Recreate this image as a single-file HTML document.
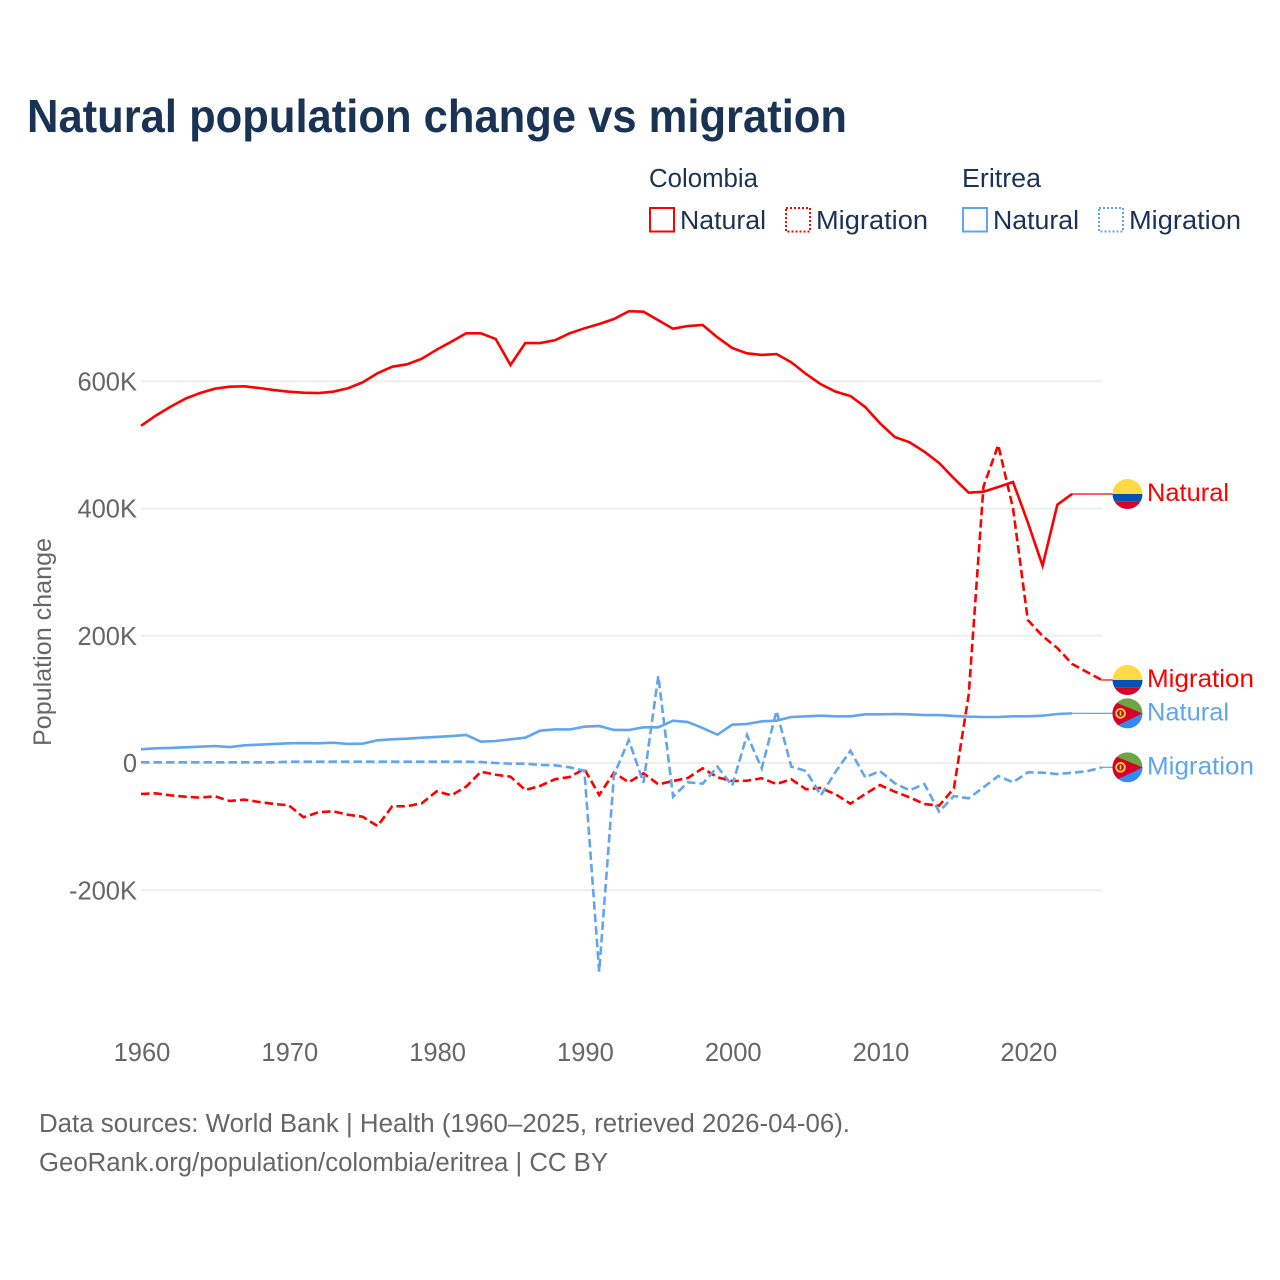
<!DOCTYPE html>
<html lang="en">
<head>
<meta charset="utf-8">
<title>Natural population change vs migration</title>
<style>
html,body{margin:0;padding:0;background:#fff}
svg{display:block}
text{font-family:"Liberation Sans",sans-serif}
</style>
</head>
<body>
<svg id="chart" xmlns="http://www.w3.org/2000/svg" width="1280" height="1280" viewBox="0 0 1280 1280">
  <defs>
    <clipPath id="flag-clip"><circle cx="0" cy="0" r="15"/></clipPath>
  </defs>
  <rect x="0" y="0" width="1280" height="1280" fill="#ffffff"/>
  <text x="27" y="132" font-size="46" font-weight="700" fill="#1a3354" textLength="820" lengthAdjust="spacingAndGlyphs">Natural population change vs migration</text>

  <g font-size="25.5" fill="#1a3354">
    <text x="649" y="187" textLength="109" lengthAdjust="spacingAndGlyphs">Colombia</text>
    <text x="962" y="187" textLength="79" lengthAdjust="spacingAndGlyphs">Eritrea</text>
    <rect x="650" y="208" width="24" height="23.5" fill="none" stroke="#ff0000" stroke-width="2"/>
    <text x="680" y="229" textLength="86" lengthAdjust="spacingAndGlyphs">Natural</text>
    <rect x="786" y="208" width="24" height="23.5" fill="none" stroke="#ff0000" stroke-width="2" stroke-dasharray="2 2"/>
    <text x="816" y="229" textLength="112" lengthAdjust="spacingAndGlyphs">Migration</text>
    <rect x="963" y="208" width="24" height="23.5" fill="none" stroke="#60a5ee" stroke-width="2"/>
    <text x="993" y="229" textLength="86" lengthAdjust="spacingAndGlyphs">Natural</text>
    <rect x="1099" y="208" width="24" height="23.5" fill="none" stroke="#60a5ee" stroke-width="2" stroke-dasharray="2 2"/>
    <text x="1129" y="229" textLength="112" lengthAdjust="spacingAndGlyphs">Migration</text>
  </g>

  <g id="grid"></g>
  <g id="y-axis"></g>
  <g id="x-axis"></g>
  <text transform="translate(51,642) rotate(-90)" text-anchor="middle" font-size="25" fill="#666666" textLength="208" lengthAdjust="spacingAndGlyphs">Population change</text>
  <g id="series"></g>
  <g id="end-labels"></g>

  <text x="39" y="1132" font-size="25.5" fill="#666666" textLength="811" lengthAdjust="spacingAndGlyphs">Data sources: World Bank | Health (1960–2025, retrieved 2026-04-06).</text>
  <text x="39" y="1171" font-size="25.5" fill="#666666" textLength="569" lengthAdjust="spacingAndGlyphs">GeoRank.org/population/colombia/eritrea | CC BY</text>
</svg>
<script>
var years = [1960,1961,1962,1963,1964,1965,1966,1967,1968,1969,1970,1971,1972,1973,1974,1975,1976,1977,1978,1979,1980,1981,1982,1983,1984,1985,1986,1987,1988,1989,1990,1991,1992,1993,1994,1995,1996,1997,1998,1999,2000,2001,2002,2003,2004,2005,2006,2007,2008,2009,2010,2011,2012,2013,2014,2015,2016,2017,2018,2019,2020,2021,2022,2023,2024,2025];
var colombiaNatural = [530,546,560,572.6,581.5,588.3,591.4,592,589.4,586.2,583.6,582,581.5,583.6,589,598.3,612.5,622.9,626.6,635.4,649.6,662.2,675.4,675.4,666.4,625.5,660,660,664.4,675.4,683.2,690,697.8,710,709.3,695.8,682.6,686.8,688.4,669,652.3,643.9,641.3,642.8,629.8,611.4,595.2,583.6,576.8,559.5,533.9,512.4,504,489.3,471.5,447.5,424.8,426.4,433.8,441.6,378.3,310.1,406,422.8];
var colombiaMigration = [-48.7,-47.6,-50.8,-53,-54.5,-52.3,-59.7,-57.7,-61.3,-64.4,-66.5,-85.3,-77.5,-75.9,-81.3,-84.4,-99,-68,-68,-63.3,-44.5,-50.8,-37.2,-13.7,-18.4,-21.5,-42.4,-36.1,-25.6,-22,-9.4,-50.3,-15.2,-30.3,-16.2,-33.5,-28.3,-23.6,-8.3,-22.5,-28.3,-27.8,-24,-33,-25.6,-41.3,-39.3,-49.2,-64,-48.7,-34.6,-45.1,-53.9,-64.4,-67.1,-39.8,106.9,434.3,499.8,400.3,224.8,199.6,180.7,155.6,143,130.5];
var eritreaNatural = [21.5,23.1,23.6,24.7,25.6,26.7,25.1,27.8,28.8,29.9,31,31.4,31,31.9,29.9,30.3,35.7,37.2,38.2,39.8,40.9,42.4,44,33.5,34.6,37.2,39.8,50.8,52.7,52.7,57,58.2,51.9,51.9,56.1,56.1,66.5,64.4,55,44.5,60.2,61.3,65.5,66.5,72.3,73.4,74.3,73.4,73.4,76.5,76.5,77,76.5,75.4,75.4,73.9,72.8,72.3,72.3,73.4,73.4,74.3,77,78];
var eritreaMigration = [1.1,1.1,1.1,1.1,1.1,1.1,1.1,1.1,1.1,1.1,2,2,2,2,2,2,2,2,2,2,2,2,2,1.6,0,-1.1,-1.1,-3.1,-3.6,-6.8,-12.1,-328,-18.9,36.1,-31,136.7,-53,-30.3,-32.5,-5.8,-35.7,44,-8.3,81.7,-5.8,-12.6,-50.8,-13.7,19.3,-22.5,-12.6,-31.9,-42.9,-33,-76.5,-51.9,-55.5,-38.2,-20.4,-30.3,-14.6,-15.2,-17.3,-15.2,-13,-6.8];
var yTickValues = [-200,0,200,400,600];
var yTickLabels = ["-200K","0","200K","400K","600K"];
var xTickValues = [1960,1970,1980,1990,2000,2010,2020];
var xTickLabels = ["1960","1970","1980","1990","2000","2010","2020"];

var NS = 'http://www.w3.org/2000/svg';
var RED = '#ff0000';
var BLUE = '#60a5ee';

function xScale(year) { return 141 + (year - 1960) * 14.78; }
function yScale(value) { return 763 - value * 0.63625; }

function make(tag, attrs, parent) {
  var el = document.createElementNS(NS, tag);
  for (var k in attrs) { el.setAttribute(k, attrs[k]); }
  parent.appendChild(el);
  return el;
}

var grid = document.getElementById('grid');
var yAxis = document.getElementById('y-axis');
var xAxis = document.getElementById('x-axis');
var seriesGroup = document.getElementById('series');
var endLabels = document.getElementById('end-labels');

yTickValues.forEach(function (v, i) {
  var line = make('line', {x1: 141, x2: 1102, y1: yScale(v), y2: yScale(v), stroke: '#eeeeee', 'stroke-width': 2}, grid);
  
  
  var t = make('text', {x: 137, y: yScale(v) + 9, 'text-anchor': 'end', 'font-size': 25.5, fill: '#666666'}, yAxis);
  t.textContent = yTickLabels[i];
  
  
});

xTickValues.forEach(function (v, i) {
  var t = make('text', {x: xScale(v) + 1, y: 1061, 'text-anchor': 'middle', 'font-size': 25.5, fill: '#666666'}, xAxis);
  t.textContent = xTickLabels[i];
  
  
});

function drawSeries(values, color, dashed, name) {
  var d = values.map(function (v, i) {
    return (i ? 'L' : 'M') + xScale(years[i]).toFixed(2) + ' ' + yScale(v).toFixed(2);
  }).join('');
  var attrs = {d: d, fill: 'none', stroke: color, 'stroke-width': 2.6, 'stroke-linejoin': 'miter'};
  if (dashed) { attrs['stroke-dasharray'] = '8.5 4'; }
  var path = make('path', attrs, seriesGroup);
  
  
}

function drawColombiaFlag(g) {
  make('rect', {x: -15, y: -15, width: 30, height: 15, fill: '#ffda44'}, g);
  make('rect', {x: -15, y: 0, width: 30, height: 7.7, fill: '#0052b4'}, g);
  make('rect', {x: -15, y: 7.7, width: 30, height: 7.3, fill: '#d80027'}, g);
}

function drawEritreaFlag(g) {
  make('rect', {x: -15, y: -15, width: 30, height: 15, fill: '#6da544'}, g);
  make('rect', {x: -15, y: 0, width: 30, height: 15, fill: '#338af3'}, g);
  make('polygon', {points: '-15,-12.3 15,0 -15,14.5', fill: '#d80027'}, g);
  make('circle', {cx: -7, cy: 0, r: 4.4, fill: 'none', stroke: '#ffda44', 'stroke-width': 1.8}, g);
  make('rect', {x: -7.8, y: -2.2, width: 1.6, height: 4.4, fill: '#ffda44'}, g);
}

function drawEndLabel(values, color, flag, text, textWidth, name) {
  var lastIndex = values.length - 1;
  var lastX = xScale(years[lastIndex]);
  var lastY = yScale(values[lastIndex]);
  var connector = make('line', {x1: lastX, y1: lastY, x2: 1113, y2: lastY, stroke: color, 'stroke-width': 1.2}, endLabels);
  
  
  var holder = make('g', {transform: 'translate(1127.5,' + lastY.toFixed(2) + ')'}, endLabels);
  
  
  var clipped = make('g', {'clip-path': 'url(#flag-clip)'}, holder);
  flag(clipped);
  var label = make('text', {x: 1147, y: lastY + 7, 'font-size': 25, fill: color, textLength: textWidth, lengthAdjust: 'spacingAndGlyphs'}, endLabels);
  label.textContent = text;
  
  
}

drawSeries(colombiaNatural, RED, false, 'line-colombia-natural');
drawSeries(colombiaMigration, RED, true, 'line-colombia-migration');
drawSeries(eritreaNatural, BLUE, false, 'line-eritrea-natural');
drawSeries(eritreaMigration, BLUE, true, 'line-eritrea-migration');

drawEndLabel(colombiaNatural, RED, drawColombiaFlag, 'Natural', 82, 'end-colombia-natural');
drawEndLabel(colombiaMigration, RED, drawColombiaFlag, 'Migration', 107, 'end-colombia-migration');
drawEndLabel(eritreaNatural, BLUE, drawEritreaFlag, 'Natural', 82, 'end-eritrea-natural');
drawEndLabel(eritreaMigration, BLUE, drawEritreaFlag, 'Migration', 107, 'end-eritrea-migration');
</script>
</body>
</html>
